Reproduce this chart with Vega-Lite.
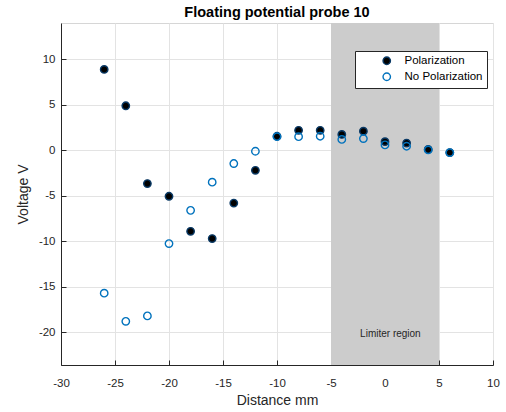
{
  "$schema": "https://vega.github.io/schema/vega-lite/v6.json",
  "autosize": {"type": "none"},
  "width": 432,
  "height": 342,
  "padding": {"left": 61, "top": 23, "right": 13, "bottom": 47},
  "background": "white",
  "config": {
    "font": "Liberation Sans",
    "view": {"stroke": "#d6d6d6", "strokeWidth": 1},
    "axis": {
      "labelFont": "Liberation Sans",
      "titleFont": "Liberation Sans",
      "labelFontSize": 11.5,
      "titleFontSize": 14,
      "titleFontWeight": "normal",
      "labelColor": "#262626",
      "titleColor": "#262626",
      "domainColor": "#262626",
      "tickColor": "#262626",
      "gridColor": "#e3e3e3",
      "gridOpacity": 1,
      "labelFlush": false,
      "labelExpr": "'' + datum.value"
    }
  },
  "title": {
    "text": "Floating potential probe 10",
    "font": "Liberation Sans",
    "fontSize": 14.5,
    "fontWeight": "bold",
    "color": "#000000",
    "anchor": "middle",
    "offset": 3
  },
  "datasets": {
    "pts": [
      {"x": -26, "v": 8.9, "s": "Polarization"},
      {"x": -24, "v": 4.9, "s": "Polarization"},
      {"x": -22, "v": -3.65, "s": "Polarization"},
      {"x": -20, "v": -5.05, "s": "Polarization"},
      {"x": -18, "v": -8.9, "s": "Polarization"},
      {"x": -16, "v": -9.7, "s": "Polarization"},
      {"x": -14, "v": -5.8, "s": "Polarization"},
      {"x": -12, "v": -2.2, "s": "Polarization"},
      {"x": -10, "v": 1.55, "s": "Polarization"},
      {"x": -8, "v": 2.2, "s": "Polarization"},
      {"x": -6, "v": 2.2, "s": "Polarization"},
      {"x": -4, "v": 1.75, "s": "Polarization"},
      {"x": -2, "v": 2.1, "s": "Polarization"},
      {"x": 0, "v": 0.95, "s": "Polarization"},
      {"x": 2, "v": 0.8, "s": "Polarization"},
      {"x": 4, "v": 0.1, "s": "Polarization"},
      {"x": 6, "v": -0.25, "s": "Polarization"},
      {"x": -26, "v": -15.7, "s": "No Polarization"},
      {"x": -24, "v": -18.8, "s": "No Polarization"},
      {"x": -22, "v": -18.2, "s": "No Polarization"},
      {"x": -20, "v": -10.25, "s": "No Polarization"},
      {"x": -18, "v": -6.6, "s": "No Polarization"},
      {"x": -16, "v": -3.5, "s": "No Polarization"},
      {"x": -14, "v": -1.45, "s": "No Polarization"},
      {"x": -12, "v": -0.1, "s": "No Polarization"},
      {"x": -10, "v": 1.5, "s": "No Polarization"},
      {"x": -8, "v": 1.5, "s": "No Polarization"},
      {"x": -6, "v": 1.55, "s": "No Polarization"},
      {"x": -4, "v": 1.2, "s": "No Polarization"},
      {"x": -2, "v": 1.3, "s": "No Polarization"},
      {"x": 0, "v": 0.6, "s": "No Polarization"},
      {"x": 2, "v": 0.45, "s": "No Polarization"},
      {"x": 4, "v": 0.05, "s": "No Polarization"},
      {"x": 6, "v": -0.25, "s": "No Polarization"}
    ],
    "region": [{"x1": -5, "x2": 5, "lx": 0.5, "ly": -20.2, "label": "Limiter region"}]
  },
  "layer": [
    {
      "data": {"name": "region"},
      "mark": {"type": "rect", "color": "#cccccc", "opacity": 1},
      "encoding": {
        "x": {"field": "x1", "type": "quantitative", "scale": {"domain": [-30, 10], "nice": false, "zero": false},
              "axis": {"title": "Distance mm", "values": [-30, -25, -20, -15, -10, -5, 0, 5, 10], "tickSize": -5, "labelPadding": 17, "titlePadding": 5, "grid": true}},
        "x2": {"field": "x2"}
      }
    },
    {
      "data": {"name": "region"},
      "mark": {"type": "text", "fontSize": 10, "color": "#262626", "font": "Liberation Sans"},
      "encoding": {
        "x": {"field": "lx", "type": "quantitative"},
        "y": {"field": "ly", "type": "quantitative"},
        "text": {"field": "label"}
      }
    },
    {
      "data": {"name": "pts"},
      "mark": {"type": "point", "shape": "circle", "size": 55, "strokeWidth": 1.4, "opacity": 1},
      "encoding": {
        "x": {"field": "x", "type": "quantitative"},
        "y": {"field": "v", "type": "quantitative", "scale": {"domain": [-23.6, 14], "nice": false, "zero": false},
              "axis": {"title": "Voltage V", "values": [-20, -15, -10, -5, 0, 5, 10], "tickSize": -5, "labelPadding": 11, "titlePadding": 8, "grid": true}},
        "fill": {"field": "s", "type": "nominal", "scale": {"domain": ["Polarization", "No Polarization"], "range": ["#000000", "transparent"]},
                 "legend": {"title": null, "orient": "none", "legendX": 294, "legendY": 28, "strokeColor": "#262626", "fillColor": "white", "padding": 4, "symbolOffset": 22, "labelOffset": 12, "labelFontSize": 11.5, "labelFont": "Liberation Sans", "labelColor": "#000000", "rowPadding": 2, "symbolSize": 55, "symbolStrokeWidth": 1.4}},
        "stroke": {"field": "s", "type": "nominal", "scale": {"domain": ["Polarization", "No Polarization"], "range": ["#0a3a66", "#0072BD"]}, "legend": null}
      }
    }
  ]
}
